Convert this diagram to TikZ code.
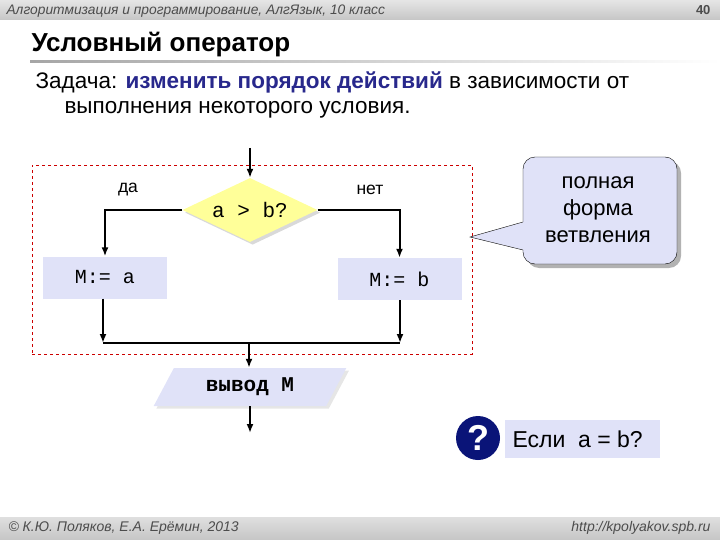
\documentclass[tikz,border=0pt]{standalone}
\usepackage{fontspec}
\setmainfont{Liberation Sans}
\setmonofont{Liberation Mono}
\usetikzlibrary{shapes.geometric,shadows,arrows.meta}
\definecolor{lav}{RGB}{224,226,248}
\definecolor{yel}{RGB}{255,255,153}
\definecolor{kw}{RGB}{40,40,140}
\definecolor{navy}{RGB}{10,20,120}
\begin{document}
\begin{tikzpicture}[x=1pt,y=-1pt,
  flow/.style={line width=2pt,-{Latex[length=9pt,width=7pt]}},
  line/.style={line width=2pt},
  proc/.style={fill=lav,minimum width=124pt,minimum height=42pt,font=\ttfamily\fontsize{20}{20}\selectfont},
  lbl/.style={font=\fontsize{17.5}{17}\selectfont}]
\useasboundingbox (0,0) rectangle (720,540);
\shade[top color=gray!20,bottom color=gray!45] (0,0) rectangle (720,20);
\node[anchor=west,font=\itshape\fontsize{13.8}{14}\selectfont,text=gray!60!black] (hdr) at (3,11) {Алгоритмизация и программирование, АлгЯзык, 10 класс};
\node[anchor=east,font=\bfseries\fontsize{13}{13}\selectfont,text=gray!60!black] (pg) at (714,10) {40};
\node[anchor=west,font=\bfseries\fontsize{26}{26}\selectfont] (title) at (28,45) {Условный оператор};
\shade[left color=gray!70,right color=white] (30,61) rectangle (720,63);
\node[anchor=west,font=\fontsize{22.5}{22}\selectfont] (t1) at (32,82) {Задача: \textcolor{kw}{\bfseries изменить порядок действий} в зависимости от};
\node[anchor=west,font=\fontsize{22.5}{22}\selectfont] (t2) at (61,110) {выполнения некоторого условия.};
\node[draw=red!80!black,dashed,minimum width=440pt,minimum height=189pt] (frame) at (252,259.5) {};
\node[diamond,aspect=2.1,fill=yel,minimum width=135pt,minimum height=64pt,inner sep=0pt,drop shadow={opacity=0.3}] (cond) at (250,210) {};
\node[font=\ttfamily\fontsize{21}{21}\selectfont] (condt) at (cond) {a > b?};
\coordinate (in) at (250,148);
\draw[flow] (in) -- (cond.north);
\node[proc] (pa) at (105,277.5) {M:= a};
\node[proc] (pb) at (399.5,279) {M:= b};
\node[lbl] (yes) at (128,190) {да};
\node[lbl] (no) at (370,190) {нет};
\draw[flow] (cond.west) -| (pa.north);
\draw[flow] (cond.east) -| (pb.north);
\coordinate (ja) at (103,343);
\coordinate (jb) at (400,343);
\coordinate (jm) at (249,343);
\draw[flow] (pa.south -| ja) -- (ja);
\draw[flow] (pb.south -| jb) -- (jb);
\draw[line] (ja) -- (jb);
\node[trapezium,trapezium left angle=62,trapezium right angle=118,fill=lav,minimum height=38pt,inner xsep=0pt,inner ysep=2pt,drop shadow={opacity=0.2},font=\ttfamily\bfseries\fontsize{21}{21}\selectfont] (out) at (250,387) {вывод M};
\draw[flow] (jm) -- (out.north -| jm);
\coordinate (end) at (250,433);
\draw[flow] (out.south -| end) -- (end);
\fill[gray!60,rounded corners=12pt] (527,161) rectangle (681,268);
\draw[fill=lav,rounded corners=12pt] (523,157) rectangle (677,264);
\fill[lav] (524,222) -- (470,237) -- (524,250) -- cycle;
\draw (523,222) -- (470,237) -- (523,250);
\node[align=center,font=\fontsize{22}{27}\selectfont] (call) at (598,210) {полная\\форма\\ветвления};
\fill[lav] (505,420) rectangle (660,458);
\node[circle,fill=navy,minimum size=44pt,inner sep=0pt,text=white,font=\bfseries\fontsize{36}{36}\selectfont] (q) at (478,438) {?};
\node[anchor=west,font=\fontsize{23}{23}\selectfont] (ifq) at (509,439) {Если \ a = b?};
\shade[top color=gray!25,bottom color=gray!45] (0,517) rectangle (720,540);
\node[anchor=west,font=\itshape\fontsize{14}{14}\selectfont,text=gray!60!black] (c) at (5,528) {© К.Ю. Поляков, Е.А. Ерёмин, 2013};
\node[anchor=east,font=\itshape\fontsize{14}{14}\selectfont,text=gray!60!black] (url) at (714,528) {http://kpolyakov.spb.ru};
\end{tikzpicture}
\end{document}
